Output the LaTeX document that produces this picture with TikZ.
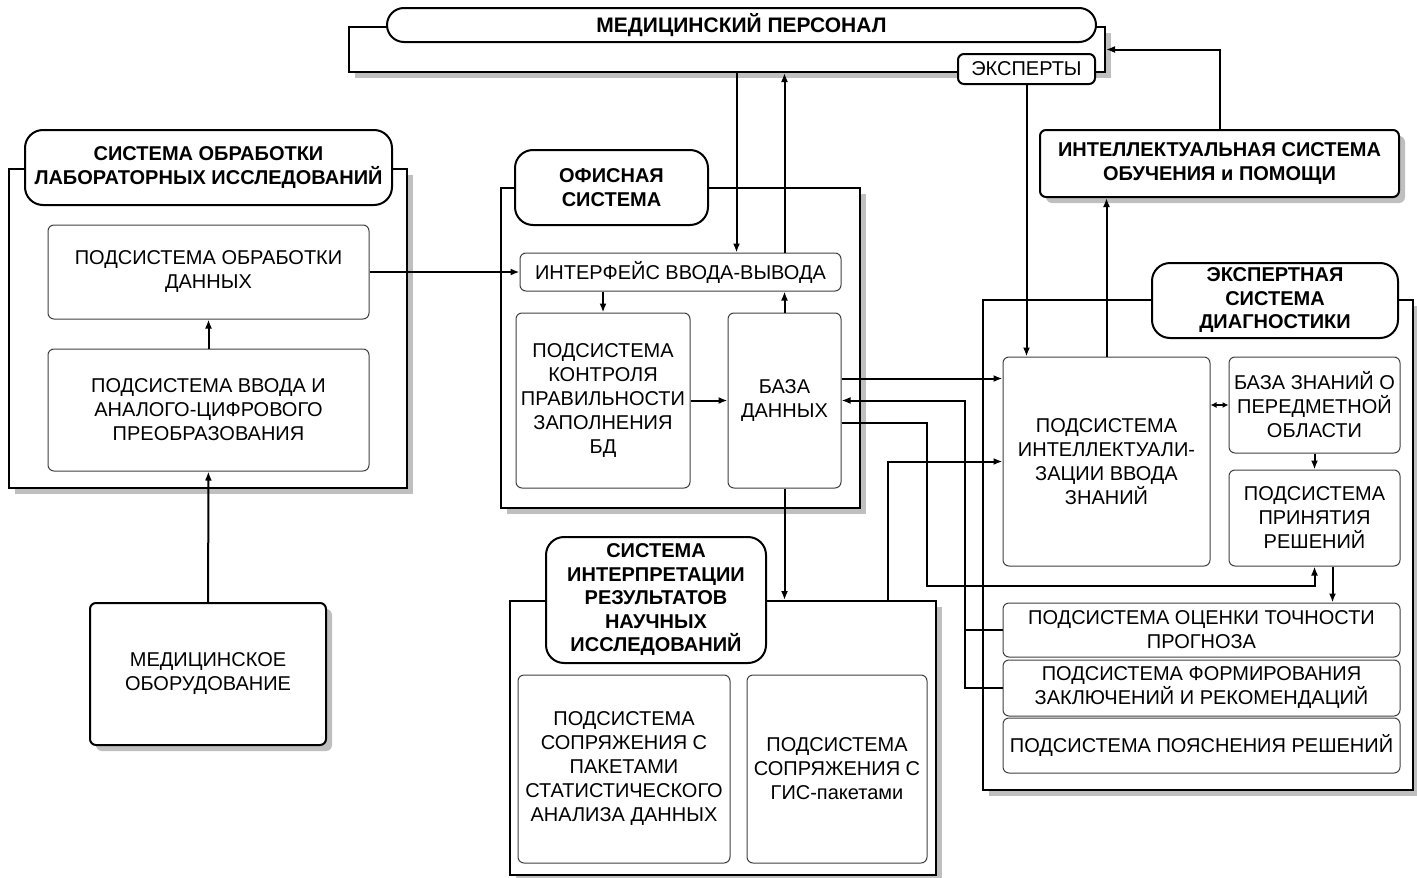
\documentclass[tikz,border=0pt]{standalone}
\usepackage{fontspec}
\setmainfont{Liberation Sans}
\usetikzlibrary{arrows.meta,shadows}

\begin{document}
\begin{tikzpicture}[
      x=1pt,
      y=-1pt,
      font=\fontsize{20}{24}\selectfont,
      frame/.style={draw, line width=2pt, fill=white, inner sep=0pt, general shadow={fill=black!25, shadow xshift=6pt, shadow yshift=-6pt}},
      title/.style={draw, line width=2pt, fill=white, rounded corners=18pt, align=center, inner sep=0pt, font=\fontsize{20}{23.5}\selectfont\bfseries},
      sub/.style={draw=black!75, line width=1pt, fill=white, rounded corners=6pt, align=center, inner sep=0pt},
      arrow/.style={-{Latex[length=9pt,width=7pt]}, line width=2pt},
      twoway/.style={{Latex[length=6pt,width=6pt]}-{Latex[length=6pt,width=6pt]}, line width=2pt}
  ]
  \useasboundingbox (0,0) rectangle (1417,878);
  % Pixel grid: x to the right, y downwards, page 1417 x 878

  % --- Frames of the systems ---
  \node[frame, minimum width=756pt, minimum height=45pt] (medframe)    at (727,49.5) {};
  \node[frame, minimum width=398pt, minimum height=319pt] (labframe)    at (208,328.5) {};
  \node[frame, minimum width=359pt, minimum height=320pt] (officeframe) at (680.5,348) {};
  \node[frame, minimum width=426pt, minimum height=274pt] (interpframe) at (723,738) {};
  \node[frame, minimum width=430pt, minimum height=490pt] (expframe)    at (1198,545) {};

  % --- Titles ---
  \node[title, rounded corners=17pt, font=\fontsize{21}{24}\selectfont\bfseries, minimum width=709pt, minimum height=34pt] (medpill) at (741.5,25) {МЕДИЦИНСКИЙ ПЕРСОНАЛ};
  \node[title, rounded corners=6pt, font=\fontsize{20}{24}\selectfont, minimum width=137pt, minimum height=30pt] (experts) at (1026.5,69) {ЭКСПЕРТЫ};
  \node[title, minimum width=367pt, minimum height=75pt] (labtitle)    at (208.5,167.5) {СИСТЕМА ОБРАБОТКИ\\ЛАБОРАТОРНЫХ ИССЛЕДОВАНИЙ};
  \node[title, minimum width=193pt, minimum height=75pt] (officetitle) at (611.5,187.5) {ОФИСНАЯ\\СИСТЕМА};
  \node[title, minimum width=220pt, minimum height=126pt] (interptitle) at (656,600) {СИСТЕМА\\ИНТЕРПРЕТАЦИИ\\РЕЗУЛЬТАТОВ\\НАУЧНЫХ\\ИССЛЕДОВАНИЙ};
  \node[title, minimum width=246pt, minimum height=75pt] (exptitle)    at (1275,300.5) {ЭКСПЕРТНАЯ\\СИСТЕМА\\ДИАГНОСТИКИ};
  \node[frame, rounded corners=6pt, align=center, font=\fontsize{20}{24}\selectfont\bfseries, minimum width=359pt, minimum height=67pt] (tutor) at (1219.5,163.5) {ИНТЕЛЛЕКТУАЛЬНАЯ СИСТЕМА\\ОБУЧЕНИЯ и ПОМОЩИ};
  \node[frame, rounded corners=6pt, align=center, minimum width=236pt, minimum height=142pt] (equip) at (208,674) {МЕДИЦИНСКОЕ\\ОБОРУДОВАНИЕ};

  % --- Laboratory system ---
  \node[sub, minimum width=321pt, minimum height=94pt]  (procdata) at (208.5,272) {ПОДСИСТЕМА ОБРАБОТКИ\\ДАННЫХ};
  \node[sub, minimum width=321pt, minimum height=122pt] (adc)      at (208.5,410) {ПОДСИСТЕМА ВВОДА И\\АНАЛОГО-ЦИФРОВОГО\\ПРЕОБРАЗОВАНИЯ};

  % --- Office system ---
  \node[sub, minimum width=321pt, minimum height=38pt]  (iface) at (680.5,272) {ИНТЕРФЕЙС ВВОДА-ВЫВОДА};
  \node[sub, minimum width=174pt, minimum height=175pt] (check) at (603,400.5) {ПОДСИСТЕМА\\КОНТРОЛЯ\\ПРАВИЛЬНОСТИ\\ЗАПОЛНЕНИЯ\\БД};
  \node[sub, minimum width=113pt, minimum height=175pt] (db)    at (784.5,400.5) {БАЗА\\ДАННЫХ};

  % --- Interpretation system ---
  \node[sub, minimum width=212pt, minimum height=188pt] (stat) at (624,769) {ПОДСИСТЕМА\\СОПРЯЖЕНИЯ С\\ПАКЕТАМИ\\СТАТИСТИЧЕСКОГО\\АНАЛИЗА ДАННЫХ};
  \node[sub, minimum width=180pt, minimum height=188pt] (gis)  at (837,769) {ПОДСИСТЕМА\\СОПРЯЖЕНИЯ С\\ГИС-пакетами};

  % --- Expert system ---
  \node[sub, minimum width=207pt, minimum height=209pt] (kinput)   at (1106.5,461.5) {ПОДСИСТЕМА\\ИНТЕЛЛЕКТУАЛИ-\\ЗАЦИИ ВВОДА\\ЗНАНИЙ};
  \node[sub, minimum width=171pt, minimum height=96pt]  (kbase)    at (1314.5,405) {БАЗА ЗНАНИЙ О\\ПЕРЕДМЕТНОЙ\\ОБЛАСТИ};
  \node[sub, minimum width=171pt, minimum height=96pt]  (decide)   at (1314.5,518) {ПОДСИСТЕМА\\ПРИНЯТИЯ\\РЕШЕНИЙ};
  \node[sub, minimum width=397pt, minimum height=54pt]  (accuracy) at (1201.5,630) {ПОДСИСТЕМА ОЦЕНКИ ТОЧНОСТИ\\ПРОГНОЗА};
  \node[sub, minimum width=397pt, minimum height=56pt]  (conclus)  at (1201.5,688) {ПОДСИСТЕМА ФОРМИРОВАНИЯ\\ЗАКЛЮЧЕНИЙ И РЕКОМЕНДАЦИЙ};
  \node[sub, minimum width=397pt, minimum height=55pt]  (explain)  at (1201.5,745.5) {ПОДСИСТЕМА ПОЯСНЕНИЯ РЕШЕНИЙ};

  \coordinate (bend) at (927,586);

  % --- Arrows ---
  \draw[arrow] (equip) -- (adc);
  \draw[arrow] (adc) -- (procdata);
  \draw[arrow] (procdata) -- (iface);

  \draw[arrow] ([xshift=56pt]iface.north |- medframe.south) -- ([xshift=56pt]iface.north);
  \draw[arrow] (db.north |- iface.north) -- (db.north |- medframe.south);
  \draw[arrow] (iface.south -| check) -- (check.north);
  \draw[arrow] (db.north) -- (db.north |- iface.south);
  \draw[arrow] (check) -- (db);
  \draw[arrow] (db.south) -- (db.south |- interpframe.north);

  \draw[arrow] ([yshift=22pt]db.east) -- ([yshift=22pt]db.east -| kinput.west);
  \draw[arrow] ([yshift=-22pt]db.east) -| (bend) -| (decide.south);
  \draw[arrow] (conclus.west) -- ++(-38,0) |- (db.east);
  \draw[line width=2pt] (accuracy.west) -- ++(-38,0);
  \draw[arrow] ([xshift=165pt]interpframe.north) |- (kinput.west);

  \draw[arrow] (experts.south) -- (experts.south |- kinput.north);
  \draw[arrow] (kinput.north) -- (kinput.north |- tutor.south);
  \draw[arrow] (tutor.north) |- (medframe.east);

  \draw[twoway] (kinput.east |- kbase) -- (kbase.west);
  \draw[arrow] (kbase) -- (decide);
  \draw[arrow] ([xshift=18pt]decide.south) -- ([xshift=18pt]decide.south |- accuracy.north);

\end{tikzpicture}
\end{document}
